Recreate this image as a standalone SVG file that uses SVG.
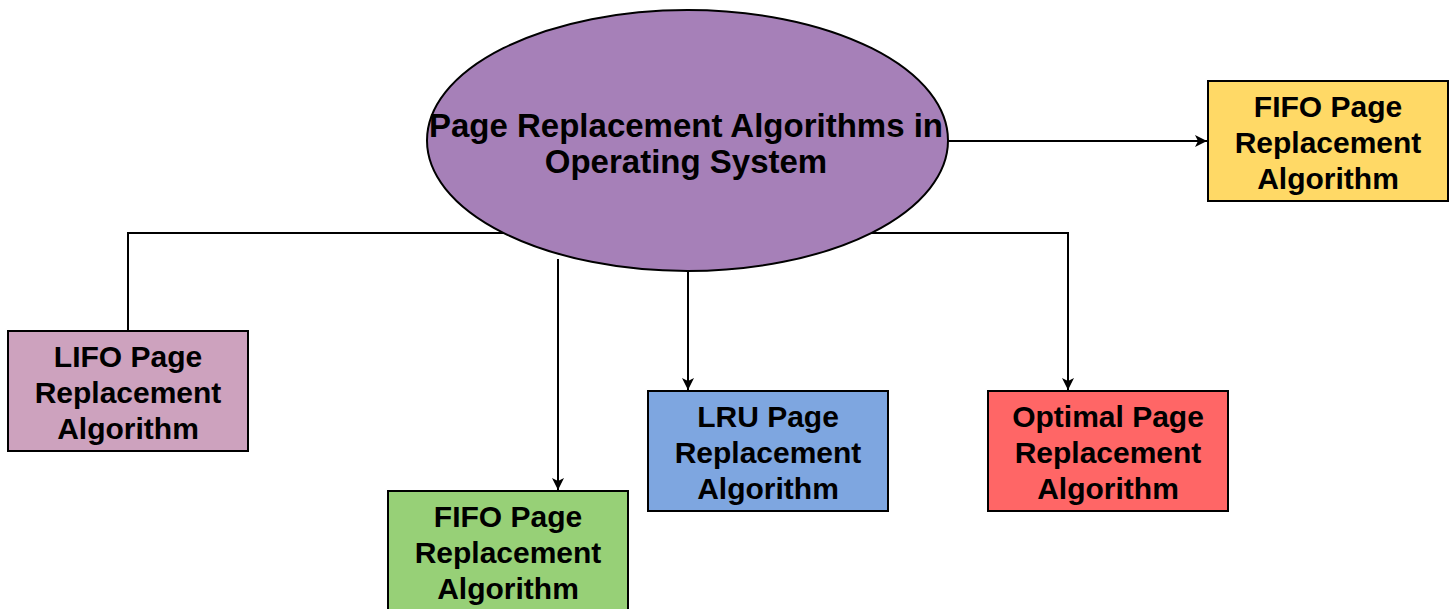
<svg xmlns="http://www.w3.org/2000/svg" width="1452" height="609" viewBox="0 0 1452 609">
<defs>
<style>
.box{stroke:#000;stroke-width:2}
.t{font-family:"Liberation Sans",Arial,sans-serif;font-weight:bold;font-size:30px;fill:#000;text-anchor:middle}
.e{font-size:33px}
.c{fill:none;stroke:#000;stroke-width:2}
</style>
<marker id="ah" viewBox="0 0 12 12" refX="12" refY="6" markerWidth="12" markerHeight="12" markerUnits="userSpaceOnUse" orient="auto">
<path d="M0,0 L12,6 L0,12 L3,6 Z" fill="#000"/>
</marker>
</defs>
<rect width="1452" height="609" fill="#fff"/>
<g id="connectors">
<path class="c" d="M948,141 L1207,141" marker-end="url(#ah)"/>
<path class="c" d="M504,233 L128,233 L128,331"/>
<path class="c" d="M558,259 L558,490" marker-end="url(#ah)"/>
<path class="c" d="M688,271 L688,390" marker-end="url(#ah)"/>
<path class="c" d="M871,233 L1068,233 L1068,390" marker-end="url(#ah)"/>
</g>
<g id="root">
<ellipse cx="687.5" cy="140.5" rx="260.5" ry="130.5" fill="#A680B8" class="box"/>
<text class="t e"><tspan x="686" y="137">Page Replacement Algorithms in</tspan><tspan x="686" y="173">Operating System</tspan></text>
</g>
<g id="fifo-right">
<rect x="1208" y="81" width="240" height="120" fill="#FFD966" class="box"/>
<text class="t"><tspan x="1328" y="117">FIFO Page</tspan><tspan x="1328" y="153">Replacement</tspan><tspan x="1328" y="189">Algorithm</tspan></text>
</g>
<g id="lifo">
<rect x="8" y="331" width="240" height="120" fill="#CDA2BE" class="box"/>
<text class="t"><tspan x="128" y="367">LIFO Page</tspan><tspan x="128" y="403">Replacement</tspan><tspan x="128" y="439">Algorithm</tspan></text>
</g>
<g id="fifo-bottom">
<rect x="388" y="491" width="240" height="120" fill="#97D077" class="box"/>
<text class="t"><tspan x="508" y="527">FIFO Page</tspan><tspan x="508" y="563">Replacement</tspan><tspan x="508" y="599">Algorithm</tspan></text>
</g>
<g id="lru">
<rect x="648" y="391" width="240" height="120" fill="#7EA6E0" class="box"/>
<text class="t"><tspan x="768" y="427">LRU Page</tspan><tspan x="768" y="463">Replacement</tspan><tspan x="768" y="499">Algorithm</tspan></text>
</g>
<g id="optimal">
<rect x="988" y="391" width="240" height="120" fill="#FF6666" class="box"/>
<text class="t"><tspan x="1108" y="427">Optimal Page</tspan><tspan x="1108" y="463">Replacement</tspan><tspan x="1108" y="499">Algorithm</tspan></text>
</g>
</svg>
